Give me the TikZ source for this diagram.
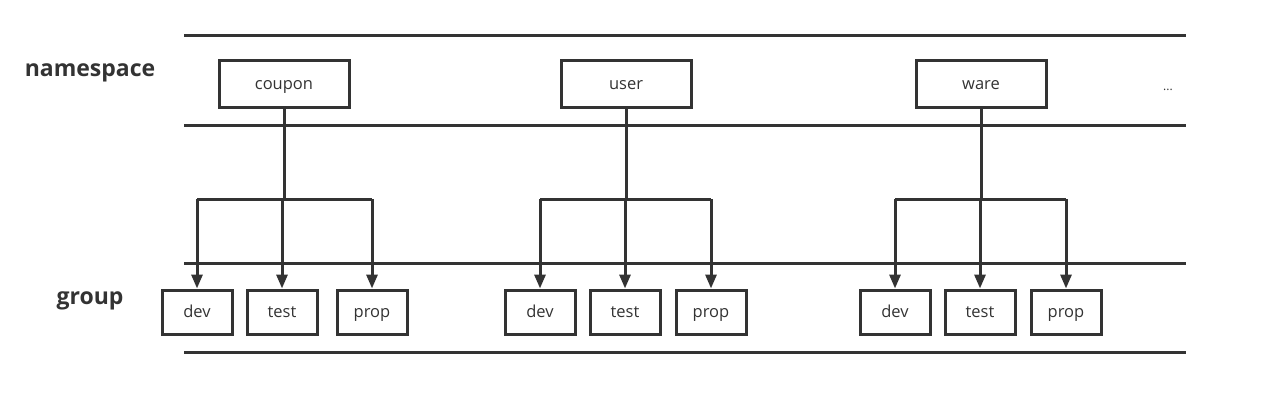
\documentclass[tikz,border=0pt]{standalone}
\usepackage{fontspec}
\setmainfont{Open Sans}
\usetikzlibrary{arrows.meta}
\definecolor{ink}{HTML}{333333}
\tikzset{
  rule/.style={draw=ink, line width=3pt},
  boxtext/.style={font=\fontsize{16.5}{19}\selectfont, text=ink, text height=13.5pt, text depth=2.5pt},
  nsbox/.style={draw=ink, line width=3pt, minimum width=130pt, minimum height=47pt, inner sep=0pt, boxtext},
  grbox/.style={draw=ink, line width=3pt, minimum width=70pt, minimum height=44pt, inner sep=0pt, boxtext},
  conn/.style={draw=ink, line width=3pt},
  arr/.style={draw=ink, line width=3pt, -{Triangle[width=11pt,length=14pt]}},
  lbl/.style={font=\bfseries\fontsize{23}{27}\selectfont, text=ink, inner sep=0pt, anchor=base}
}
\begin{document}
\begin{tikzpicture}[x=1pt,y=-1pt]
\useasboundingbox (0,0) rectangle (1273,408);
% rules
\coordinate (r1a) at (184,35); \coordinate (r1b) at (1186,35);
\coordinate (r2a) at (184,125); \coordinate (r2b) at (1186,125);
\coordinate (r3a) at (184,263); \coordinate (r3b) at (1186,263);
\coordinate (r4a) at (184,352); \coordinate (r4b) at (1186,352);
\draw[rule] (r1a) -- (r1b);
\draw[rule] (r2a) -- (r2b);
\draw[rule] (r3a) -- (r3b);
\draw[rule] (r4a) -- (r4b);
% labels
\node[lbl] (ns) at (90,76) {namespace};
\node[lbl] (grp) at (90,304) {group};
\node[font=\fontsize{12}{14}\selectfont, text=ink, anchor=base] (dots) at (1168,90) {...};
% namespaces
\node[nsbox] (coupon) at (284,83.5) {coupon};
\node[nsbox] (user) at (626,83.5) {user};
\node[nsbox] (ware) at (981,83.5) {ware};
% groups
\foreach \n/\d/\t/\p in {c/197/282/372, u/540/625/711, w/895/980/1066}{
  \node[grbox] (\n dev) at (\d,312) {dev};
  \node[grbox] (\n test) at (\t,312) {test};
  \node[grbox] (\n prop) at (\p,312) {prop};
}
% connectors
\foreach \parent/\n in {coupon/c, user/u, ware/w}{
  \coordinate (\n j) at (\parent.south |- 0,199);
  \coordinate (\n l) at (\n dev.north |- 0,199);
  \coordinate (\n r) at (\n prop.north |- 0,199);
  \coordinate (\n m) at (\n test.north |- 0,199);
  \draw[conn] (\parent.south) -- (\n j);
  \draw[conn] (\n l) -- (\n r);
  \draw[arr] (\n l) -- (\n dev.north);
  \draw[arr] (\n m) -- (\n test.north);
  \draw[arr] (\n r) -- (\n prop.north);
}
\end{tikzpicture}
\end{document}
